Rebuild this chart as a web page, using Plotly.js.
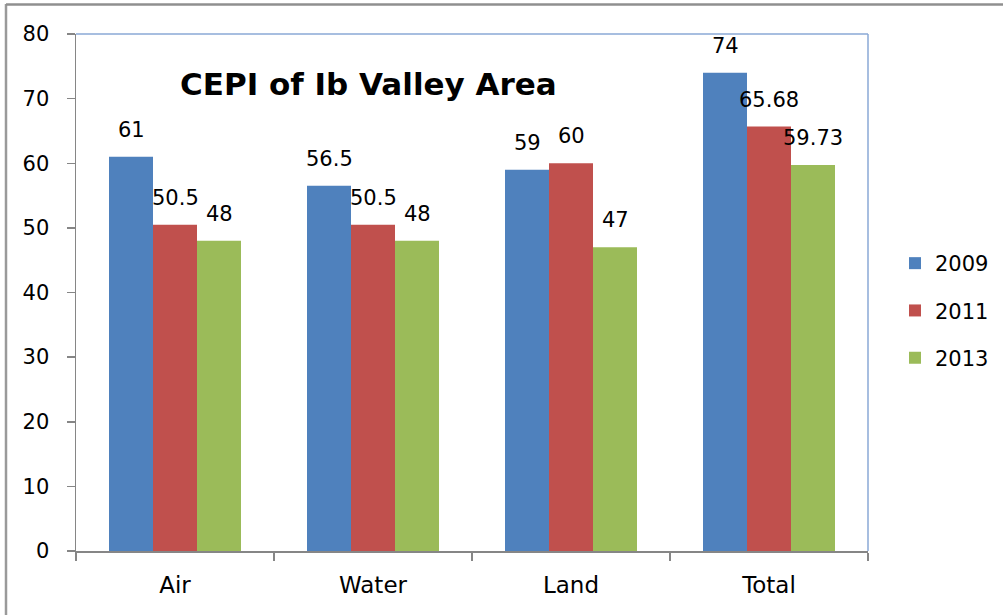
<!DOCTYPE html>
<html>
<head>
<meta charset="utf-8">
<script src="https://cdn.plot.ly/plotly-3.0.1.min.js"></script>
<style>html,body{margin:0;padding:0;background:#fff;}#chart{width:1003px;height:615px;}</style>
</head>
<body>
<div id="chart"></div>
<script>
const categories = ["Air", "Water", "Land", "Total"];
const seriesNames = ["2009", "2011", "2013"];
const values2009 = [61, 56.5, 59, 74];
const values2011 = [50.5, 50.5, 60, 65.68];
const values2013 = [48, 48, 47, 59.73];
const yTicks = [0, 10, 20, 30, 40, 50, 60, 70, 80];
const chartTitle = "CEPI of Ib Valley Area";

const colors = ["#4F81BD", "#C0504D", "#9BBB59"];
const allValues = [values2009, values2011, values2013];

const W = 1003, H = 615;
const margin = {l: 76, r: 135, t: 34, b: 64, autoexpand: false};
const plotW = W - margin.l - margin.r;
const plotH = H - margin.t - margin.b;
const px2x = p => (p - margin.l) / plotW;
const px2y = p => (H - margin.b - p) / plotH;

const traces = allValues.map((vals, i) => ({
  type: "bar",
  name: seriesNames[i],
  x: categories,
  y: vals,
  marker: {color: colors[i], line: {width: 0}},
  legendgroup: "g" + i,
  hoverinfo: "x+y+name"
}));

const bargap = 1/3;
const barPx = plotW / categories.length * (1 - bargap) / 3;

const annotations = [];
allValues.forEach((vals, i) => {
  vals.forEach((v, j) => {
    annotations.push({
      x: categories[j], y: v, xref: "x", yref: "y",
      text: String(v), showarrow: false,
      xshift: (i - 1) * barPx, yshift: 27,
      xanchor: "center", yanchor: "middle",
      font: {family: "DejaVu Sans", size: 21, color: "#000"}
    });
  });
});
annotations.push({
  xref: "paper", yref: "paper",
  x: px2x(368), y: px2y(84),
  text: "<b>" + chartTitle + "</b>", showarrow: false,
  xanchor: "center", yanchor: "middle",
  font: {family: "DejaVu Sans", size: 31, color: "#000"}
});

const shapes = [
  {type: "line", xref: "paper", yref: "paper", x0: 0, x1: 1, y0: 1, y1: 1, line: {color: "#8AA9D6", width: 1.5}},
  {type: "line", xref: "paper", yref: "paper", x0: 1, x1: 1, y0: 0, y1: 1, line: {color: "#8AA9D6", width: 1.5}},
  {type: "line", xref: "paper", yref: "paper", x0: px2x(6), x1: px2x(6), y0: px2y(4), y1: px2y(615), line: {color: "#9a9a9a", width: 2.5}},
  {type: "line", xref: "paper", yref: "paper", x0: px2x(6), x1: px2x(1003), y0: px2y(4.5), y1: px2y(4.5), line: {color: "#8f8f8f", width: 2.5}}
];

const layout = {
  width: W, height: H,
  margin: margin,
  paper_bgcolor: "#fff", plot_bgcolor: "#fff",
  barmode: "group",
  bargap: bargap, bargroupgap: 0,
  showlegend: true,
  legend: {
    x: px2x(895), y: px2y(243), xanchor: "left", yanchor: "top",
    traceorder: "grouped", tracegroupgap: 17,
    font: {family: "DejaVu Sans", size: 21, color: "#000"},
    bgcolor: "rgba(0,0,0,0)"
  },
  xaxis: {
    type: "category",
    showline: true, linecolor: "#868686", linewidth: 1.5,
    ticks: "outside", tickson: "boundaries", ticklen: 8, tickcolor: "#868686", tickwidth: 1.5,
    ticklabelstandoff: 13,
    tickfont: {family: "DejaVu Sans", size: 23, color: "#000"},
    showgrid: false, zeroline: false, fixedrange: true, automargin: false
  },
  yaxis: {
    range: [0, 80],
    tickvals: yTicks, ticktext: yTicks.map(String),
    showline: true, linecolor: "#868686", linewidth: 1.5,
    ticks: "outside", ticklen: 8, tickcolor: "#868686", tickwidth: 1.5,
    ticklabelstandoff: 13,
    tickfont: {family: "DejaVu Sans", size: 21, color: "#000"},
    showgrid: false, zeroline: false, fixedrange: true, automargin: false
  },
  annotations: annotations,
  shapes: shapes
};

Plotly.newPlot("chart", traces, layout, {displayModeBar: false, staticPlot: true});
</script>
</body>
</html>
